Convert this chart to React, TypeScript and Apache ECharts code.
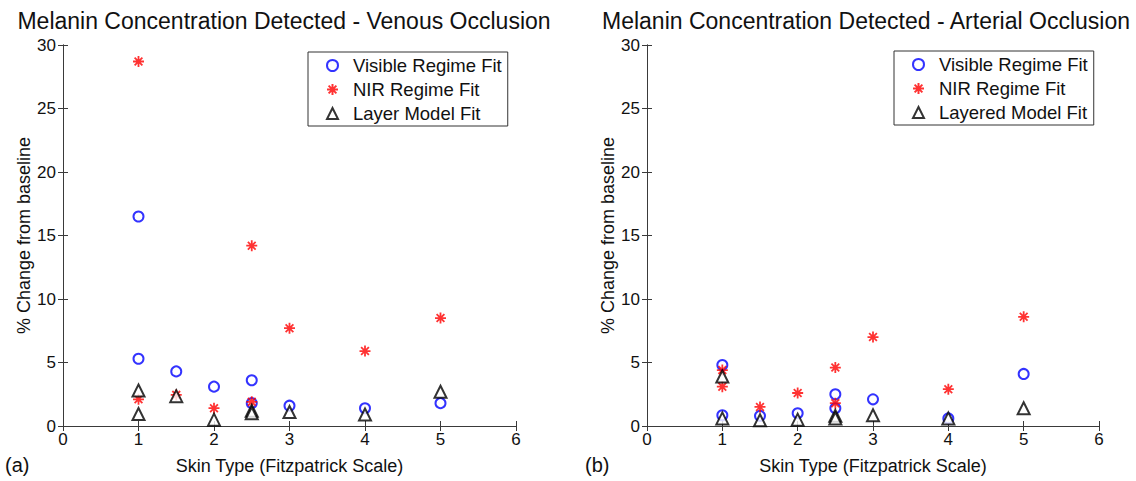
import React, { useEffect, useRef } from "react";
import * as echarts from "echarts";

// ---- Data ----
const skinTypes = [1, 1, 1.5, 2, 2.5, 2.5, 3, 4, 5];
const xTicks = [0, 1, 2, 3, 4, 5, 6];

// Venous occlusion (a)
const venousVisible = [16.5, 5.3, 4.3, 3.1, 3.6, 1.8, 1.6, 1.4, 1.8];
const venousNIR = [28.7, 2.1, 2.45, 1.4, 14.2, 1.9, 7.7, 5.9, 8.5];
const venousLayer = [2.8, 0.95, 2.35, 0.5, 1.2, 1.0, 1.1, 0.9, 2.7];

// Arterial occlusion (b)
const arterialVisible = [4.8, 0.85, 0.8, 1.0, 2.5, 1.4, 2.1, 0.6, 4.1];
const arterialNIR = [4.4, 3.1, 1.5, 2.6, 4.6, 1.8, 7.0, 2.9, 8.6];
const arterialLayer = [3.9, 0.6, 0.45, 0.5, 0.8, 0.6, 0.85, 0.6, 1.4];

const titles = [
  "Melanin Concentration Detected - Venous Occlusion",
  "Melanin Concentration Detected - Arterial Occlusion",
];
const panelLabels = ["(a)", "(b)"];
const legendNames = [
  ["Visible Regime Fit", "NIR Regime Fit", "Layer Model Fit"],
  ["Visible Regime Fit", "NIR Regime Fit", "Layered Model Fit"],
];

const FONT = "'Liberation Sans', Arial, sans-serif";
const AXIS_COLOR = "#3a3a3a";
const TEXT_COLOR = "#111";

const asterisk =
  "path://M0,-10L0,10M-10,0L10,0M-7.07,-7.07L7.07,7.07M-7.07,7.07L7.07,-7.07";

const pair = (ys: number[]) => skinTypes.map((x, i) => [x, ys[i]]);

export default function App() {
  const ref = useRef<HTMLDivElement>(null);
  useEffect(() => {
    if (!ref.current) return;
    const chart = echarts.init(ref.current, undefined, { renderer: "svg" });

    const grids = [
      { left: 63, top: 45, width: 453, height: 381 },
      { left: 647, top: 45, width: 452, height: 381 },
    ];
    const titleCenters = [279, 861];

    const xAxes: any[] = [];
    const yAxes: any[] = [];
    grids.forEach((_, g) => {
      xAxes.push({
        gridIndex: g,
        type: "value",
        min: 0,
        max: 6,
        interval: 1,
        position: "bottom",
        name: "Skin Type (Fitzpatrick Scale)",
        nameLocation: "middle",
        nameGap: 31,
        nameTextStyle: { fontFamily: FONT, fontSize: 18, color: TEXT_COLOR },
        axisLine: { show: true, lineStyle: { color: AXIS_COLOR, width: 1 } },
        axisTick: { show: true, inside: true, length: 5, lineStyle: { color: AXIS_COLOR } },
        axisLabel: {
          fontFamily: FONT,
          fontSize: 17,
          color: TEXT_COLOR,
          margin: 5,
          formatter: (v: number) => (xTicks.includes(v) ? String(v) : ""),
        },
        splitLine: { show: false },
      });
      xAxes.push({
        gridIndex: g,
        type: "value",
        min: 0,
        max: 6,
        interval: 1,
        position: "top",
        axisLine: { show: true, lineStyle: { color: AXIS_COLOR, width: 1 } },
        axisTick: { show: true, inside: true, length: 5, lineStyle: { color: AXIS_COLOR } },
        axisLabel: { show: false },
        splitLine: { show: false },
      });
      yAxes.push({
        gridIndex: g,
        type: "value",
        min: 0,
        max: 30,
        interval: 5,
        position: "left",
        name: "% Change from baseline",
        nameLocation: "middle",
        nameGap: 28,
        nameTextStyle: { fontFamily: FONT, fontSize: 18, color: TEXT_COLOR },
        axisLine: { show: true, lineStyle: { color: AXIS_COLOR, width: 1 } },
        axisTick: { show: true, inside: true, length: 5, lineStyle: { color: AXIS_COLOR } },
        axisLabel: { fontFamily: FONT, fontSize: 17, color: TEXT_COLOR, margin: 7 },
        splitLine: { show: false },
      });
      yAxes.push({
        gridIndex: g,
        type: "value",
        min: 0,
        max: 30,
        interval: 5,
        position: "right",
        axisLine: { show: true, lineStyle: { color: AXIS_COLOR, width: 1 } },
        axisTick: { show: true, inside: true, length: 5, lineStyle: { color: AXIS_COLOR } },
        axisLabel: { show: false },
        splitLine: { show: false },
      });
    });

    const panels = [
      [venousVisible, venousNIR, venousLayer],
      [arterialVisible, arterialNIR, arterialLayer],
    ];

    const series: any[] = [];
    panels.forEach((p, g) => {
      const names = legendNames[g];
      series.push({
        type: "scatter",
        name: names[0],
        xAxisIndex: g * 2,
        yAxisIndex: g * 2,
        data: pair(p[0]),
        symbol: "emptyCircle",
        symbolSize: 10,
        itemStyle: { color: "#0000ff", borderColor: "#0000ff", borderWidth: 1.7 },
      });
      series.push({
        type: "scatter",
        name: names[1],
        xAxisIndex: g * 2,
        yAxisIndex: g * 2,
        data: pair(p[1]),
        symbol: asterisk,
        symbolSize: 11,
        itemStyle: { color: "#ff0000", borderColor: "#ff0000", borderWidth: 1.8 },
      });
      series.push({
        type: "scatter",
        name: names[2],
        xAxisIndex: g * 2,
        yAxisIndex: g * 2,
        data: pair(p[2]),
        symbol: "emptyTriangle",
        symbolSize: 12,
        itemStyle: { color: "#000000", borderColor: "#000000", borderWidth: 1.7 },
      });
    });

    const legendPos = [
      { left: 308, top: 52 },
      { left: 894, top: 51 },
    ];

    chart.setOption({
      animation: false,
      backgroundColor: "#ffffff",
      title: titles.map((t, g) => ({
        text: t,
        left: titleCenters[g],
        top: 4,
        textAlign: "center",
        textStyle: { fontFamily: FONT, fontSize: 23, fontWeight: "normal", color: TEXT_COLOR },
      })),
      legend: legendNames.map((names, g) => ({
        data: names,
        orient: "vertical",
        left: legendPos[g].left,
        top: legendPos[g].top,
        itemWidth: 11,
        itemHeight: 11,
        itemGap: 5,
        padding: [4, 6, 3, 18],
        backgroundColor: "#ffffff",
        borderColor: "#333",
        borderWidth: 1,
        borderRadius: 0,
        selectedMode: false,
        textStyle: { fontFamily: FONT, fontSize: 18.5, color: TEXT_COLOR, padding: [0, 0, 0, 10] },
      })),
      grid: grids,
      xAxis: xAxes,
      yAxis: yAxes,
      series,
      graphic: panelLabels.map((t, g) => ({
        type: "text",
        left: g === 0 ? 5 : 585,
        top: 455,
        style: { text: t, font: `20px ${FONT}`, fill: TEXT_COLOR },
      })),
    });

    return () => chart.dispose();
  }, []);

  return (
    <div
      ref={ref}
      style={{ position: "fixed", left: 0, top: 0, width: 1136, height: 481, background: "#fff" }}
    />
  );
}
